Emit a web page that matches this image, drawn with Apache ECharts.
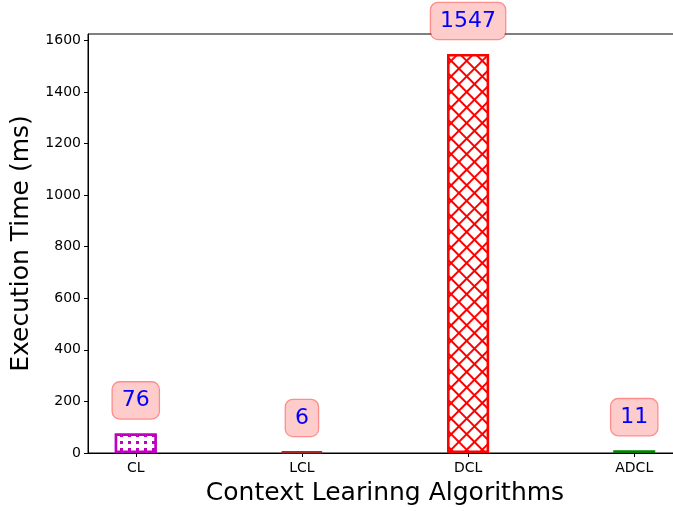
<!DOCTYPE html>
<html>
<head>
<meta charset="utf-8">
<script src="https://cdn.jsdelivr.net/npm/echarts@6/dist/echarts.min.js"></script>
<style>
  html, body { margin: 0; padding: 0; background: #fff; overflow: hidden; }
  /* wider than the window: the right spine sits just past the visible edge */
  #chart { width: 700px; height: 511px; }
</style>
</head>
<body>
<div id="chart"></div>
<script>
// categories and values
const algorithms = ['CL', 'LCL', 'DCL', 'ADCL'];
const execTimes = [76, 6, 1547, 11];
const yTicks = [0, 200, 400, 600, 800, 1000, 1200, 1400, 1600];

// per-bar look (edge colour + hatch)
const edgeColors = ['#bf00bf', '#a52a2a', '#ff0000', '#008000'];
const fillColors = ['#ffffff', '#a52a2a', '#ffffff', '#008000'];
const hatches = [
  { symbol: 'rect', symbolSize: 1, color: '#bf00bf', backgroundColor: '#ffffff',
    dashArrayX: [2.5, 4.5], dashArrayY: [2.5, 4] },
  null,
  { symbol: 'rect', symbolSize: 1, color: '#ffffff', backgroundColor: '#ff0000',
    dashArrayX: [8.6, 2], dashArrayY: [8.6, 2], rotation: Math.PI / 4 },
  null
];

const chart = echarts.init(document.getElementById('chart'));

const font = 'DejaVu Sans';
const ymax = Math.max(...execTimes) * 1.05; // matplotlib-ish top margin

chart.setOption({
  animation: false,
  textStyle: { fontFamily: font },
  grid: {
    left: 88,
    right: 18,
    top: 34,
    bottom: 57,
    show: true,
    borderColor: '#000',
    borderWidth: 1,
    backgroundColor: 'transparent'
  },
  xAxis: {
    type: 'value',
    min: -0.2875,
    max: 3.2875,
    name: 'Context Learinng Algorithms',
    nameLocation: 'middle',
    nameGap: 28,
    nameTextStyle: { fontSize: 25, color: '#000', fontFamily: font },
    axisLine: { show: true, onZero: false, lineStyle: { color: '#000', width: 1 } },
    axisTick: { show: true, length: 4, lineStyle: { color: '#000' },
      customValues: [0, 1, 2, 3] },
    axisLabel: {
      customValues: [0, 1, 2, 3],
      margin: 8,
      fontSize: 14,
      color: '#000',
      formatter: function (v) { return algorithms[Math.round(v)] || ''; }
    },
    splitLine: { show: false }
  },
  yAxis: {
    type: 'value',
    min: 0,
    max: ymax,
    name: 'Execution Time (ms)',
    nameLocation: 'middle',
    nameGap: 53,
    nameTextStyle: { fontSize: 25, color: '#000', fontFamily: font },
    axisLine: { show: true, onZero: false, lineStyle: { color: '#000', width: 1 } },
    axisTick: { show: true, length: 4, lineStyle: { color: '#000' },
      customValues: yTicks },
    axisLabel: {
      customValues: yTicks,
      fontSize: 14,
      color: '#000',
      margin: 7,
      formatter: function (v) { return String(v); }
    },
    splitLine: { show: false }
  },
  series: [{
    type: 'bar',
    barWidth: 42,
    data: execTimes.map(function (v, i) {
      const style = {
        color: fillColors[i],
        borderColor: edgeColors[i],
        borderWidth: 2.5
      };
      if (hatches[i]) style.decal = hatches[i];
      return { value: [i, v], itemStyle: style };
    }),
    label: {
      show: true,
      position: 'top',
      distance: 15,
      formatter: function (p) { return p.value[1]; },
      fontSize: 22,
      lineHeight: 22,
      color: '#0000ff',
      fontFamily: font,
      backgroundColor: '#ffcccc',
      borderColor: 'rgba(255,0,0,0.45)',
      borderWidth: 1.3,
      borderRadius: 7,
      padding: [7, 9]
    }
  }]
});
</script>
</body>
</html>
